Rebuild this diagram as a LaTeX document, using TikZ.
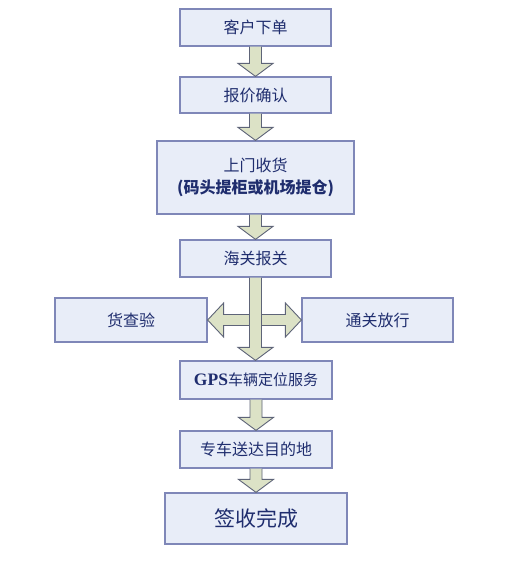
\documentclass[tikz,border=0pt]{standalone}
\usepackage{fontspec}
\setmainfont{Liberation Serif}
\newfontfamily\cjk{Noto Sans CJK SC}
\usetikzlibrary{calc}
\definecolor{boxfill}{HTML}{E8EDF8}
\definecolor{boxline}{HTML}{7F87B8}
\definecolor{txt}{HTML}{1F2D6E}
\definecolor{arrfill}{HTML}{DCE2C6}
\definecolor{arrline}{HTML}{5E6478}
\tikzset{
  box/.style={draw=boxline, line width=1.2pt, fill=boxfill, text=txt, inner sep=0pt, align=center,
    font=\cjk\fontsize{16}{18}\selectfont},
  arrfillstyle/.style={fill=arrfill},
  arrdraw/.style={draw=arrline, line width=0.9pt, line join=miter},
}
\newcommand\blockarrow[2]{%
  \fill[arrfillstyle] let \p1=(#1.south), \p2=(#2.north) in
    (\x1-6pt,\y1) -- (\x1-6pt,\y2+13pt) -- (\x1-17.5pt,\y2+13pt) -- (\x1,\y2)
    -- (\x1+17.5pt,\y2+13pt) -- (\x1+6pt,\y2+13pt) -- (\x1+6pt,\y1) -- cycle;
  \draw[arrdraw] let \p1=(#1.south), \p2=(#2.north) in
    (\x1-6pt,\y1) -- (\x1-6pt,\y2+13pt) -- (\x1-17.5pt,\y2+13pt) -- (\x1,\y2)
    -- (\x1+17.5pt,\y2+13pt) -- (\x1+6pt,\y2+13pt) -- (\x1+6pt,\y1);
}
\begin{document}
\begin{tikzpicture}[x=1pt,y=-1pt]
\useasboundingbox (0,0) rectangle (512,565);
\fill[white] (0,0) rectangle (512,565);
\node[box, minimum width=151pt, minimum height=37pt] (b1) at (255.5,27.5) {客户下单};
\node[box, minimum width=151pt, minimum height=36pt] (b2) at (255.5,95) {报价确认};
\node[box, minimum width=197pt, minimum height=73pt] (b3) at (255.5,177.5)
  {上门收货\\[4pt]{\fontsize{16}{18}\selectfont\bfseries (码头提柜或机场提仓)}};
\node[box, minimum width=151pt, minimum height=37pt] (b4) at (255.5,258.5) {海关报关};
\node[box, minimum width=152pt, minimum height=44pt] (L) at (131,320) {货查验};
\node[box, minimum width=151pt, minimum height=44pt] (R) at (377.5,320) {通关放行};
\node[box, minimum width=152pt, minimum height=38pt] (b5) at (256,380)
  {{\fontsize{17.5}{18}\selectfont\rmfamily\bfseries GPS}{\fontsize{15}{18}\selectfont 车辆定位服务}};
\node[box, minimum width=152pt, minimum height=37pt] (b6) at (256,449.5) {专车送达目的地};
\node[box, minimum width=182pt, minimum height=51pt, font=\cjk\fontsize{21}{24}\selectfont] (b7) at (256,518.5) {签收完成};
\blockarrow{b1}{b2}
\blockarrow{b2}{b3}
\blockarrow{b3}{b4}
% horizontal double arrow
\filldraw[arrfillstyle, arrdraw] let \p1=(b4.south), \p2=(L.east), \p3=(R.west) in
  (\x2,\y2) -- (\x2+16pt,\y2+17pt) -- (\x2+16pt,\y2+5.5pt) -- (\x3-16pt,\y2+5.5pt)
  -- (\x3-16pt,\y2+17pt) -- (\x3,\y2) -- (\x3-16pt,\y2-17pt) -- (\x3-16pt,\y2-5.5pt)
  -- (\x2+16pt,\y2-5.5pt) -- (\x2+16pt,\y2-17pt) -- cycle;
\blockarrow{b4}{b5}
\blockarrow{b5}{b6}
\blockarrow{b6}{b7}
\end{tikzpicture}
\end{document}
